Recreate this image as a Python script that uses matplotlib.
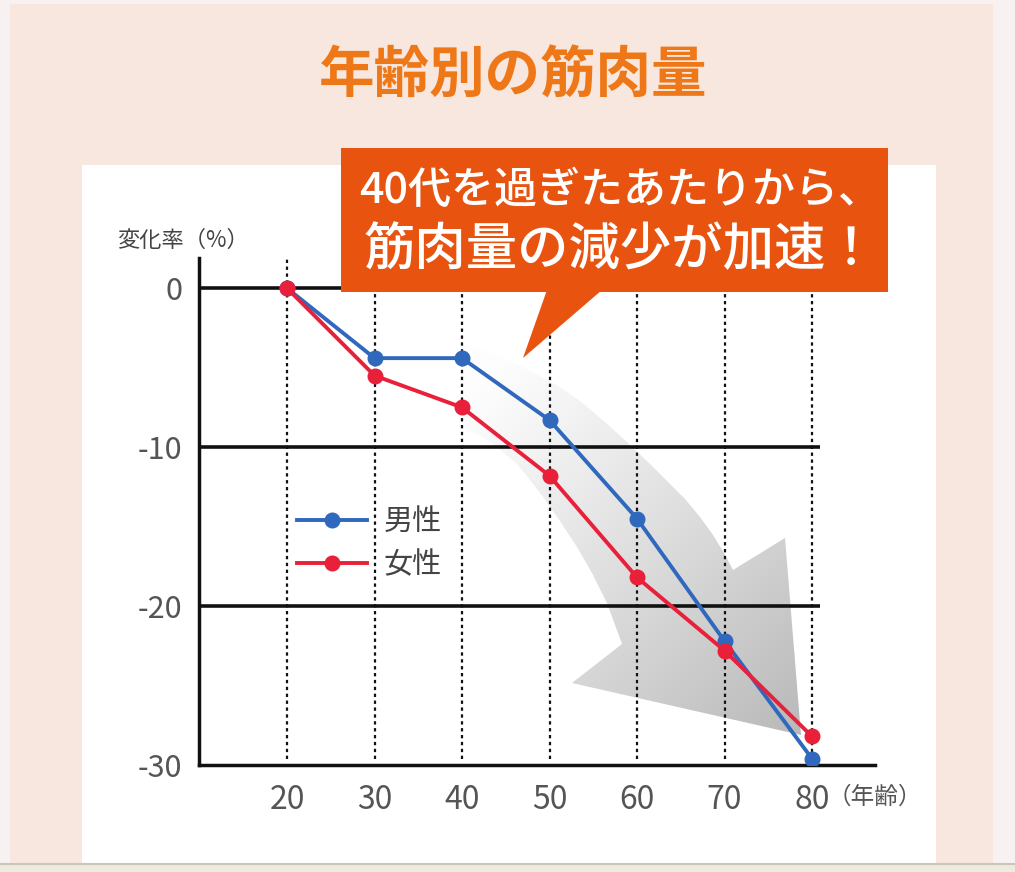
import numpy as np
import matplotlib
matplotlib.use('Agg')
import matplotlib.pyplot as plt
from matplotlib.patches import Rectangle, Polygon

plt.rcParams['font.family'] = ['Noto Sans CJK JP', 'DejaVu Sans']

# データ
ages = [20, 30, 40, 50, 60, 70, 80]
male = [0, -4.4, -4.4, -8.3, -14.5, -22.2, -29.6]
female = [0, -5.5, -7.5, -11.8, -18.2, -22.8, -28.2]
y_ticks = [0, -10, -20, -30]
series_names = ['男性', '女性']

title = '年齢別の筋肉量'
callout_1 = '40代を過ぎたあたりから、'
callout_2 = '筋肉量の減少が加速！'

W, H = 1015, 872
fig = plt.figure(figsize=(W / 100, H / 100), dpi=100)
fig.patch.set_facecolor('#f8f1f1')

# 背景（ピクセル座標）
bg = fig.add_axes([0, 0, 1, 1], zorder=0)
bg.set_xlim(0, W)
bg.set_ylim(H, 0)
bg.axis('off')
bg.add_patch(Rectangle((10, 4), 983, 859, color='#f8e7de', lw=0))
bg.add_patch(Rectangle((82, 165), 854, 698, color='white', lw=0))
bg.add_patch(Rectangle((0, 863), W, 9, color='#eeebdc', lw=0))
bg.plot([0, W], [863.5, 863.5], color='#c9c6c0', lw=1.5)

# グレーの矢印（グラデーション）
arrow_pts = [(463, 345), (500, 356), (530, 371), (558, 386), (580, 401),
             (605, 422), (630, 445), (650, 464), (668, 482), (685, 499),
             (700, 517), (713, 535), (724, 553), (733, 570), (785, 538),
             (801, 735), (572, 683), (622, 644), (607, 603), (592, 573),
             (577, 547), (560, 521), (543, 497), (530, 480), (517, 464),
             (497, 447), (478, 434), (463, 428)]
arrow = Polygon(arrow_pts, closed=True, facecolor='none', edgecolor='none')
bg.add_patch(arrow)
gx, gy = np.meshgrid(np.linspace(440, 820, 240), np.linspace(330, 750, 240))
t = ((gx - 465) * 0.697 + (gy - 390) * 0.717) / 481
t = np.clip(t, 0, 1)
g = 0.995 - 0.27 * t ** 1.1
img = np.dstack([g, g, g, np.ones_like(g)])
im = bg.imshow(img, extent=(440, 820, 750, 330), origin='upper',
               interpolation='bilinear', aspect='auto', zorder=3)
im.set_clip_path(arrow)
bg.set_xlim(0, W)
bg.set_ylim(H, 0)

# タイトル
bg.text(513, 77, title, color='#ee7818', fontsize=40, fontweight='bold',
        ha='center', va='center')
bg.text(117, 240, '変化率（%）', color='#444444', fontsize=16,
        ha='left', va='center')

# メインのグラフ
xmin, xmax = 9.94, 87.2
ymin, ymax = -30, 1.9
ax = fig.add_axes([199 / W, (H - 765) / H, 676 / W, 507 / H], zorder=1)
ax.patch.set_alpha(0)
ax.set_xlim(xmin, xmax)
ax.set_ylim(ymin, ymax)

for s in ['top', 'right']:
    ax.spines[s].set_visible(False)
for s in ['left', 'bottom']:
    ax.spines[s].set_linewidth(2.5)
    ax.spines[s].set_color('#111111')

ax.hlines(y_ticks[:-1], xmin, 80.9, color='#111111', lw=2.6, zorder=2)
ax.vlines(ages, ymin + 0.4, ymax, color='#111111', lw=1.6,
          linestyles=(0, (1.5, 1.6)), zorder=2)

ax.plot(ages, male, color='#2f68bd', lw=2.8, marker='o', ms=10.5,
        label=series_names[0], zorder=4)
ax.plot(ages, female, color='#e8203a', lw=2.8, marker='o', ms=10.5,
        label=series_names[1], zorder=5)

ax.set_xticks(ages)
ax.set_xticklabels([str(a) for a in ages])
ax.set_yticks(y_ticks)
ax.set_yticklabels([str(v) for v in y_ticks])
ax.tick_params(length=0, colors='#555555')
ax.tick_params(axis='y', labelsize=22, pad=12)
ax.tick_params(axis='x', labelsize=23, pad=14)
ax.annotate('（年齢）', xy=(80, ymin), xytext=(11, -23),
            textcoords='offset points', ha='left', va='center',
            fontsize=17, color='#555555')

ax.legend(loc='upper left', bbox_to_anchor=(0.124, 0.538), frameon=False,
          fontsize=21, handlelength=2.4, handletextpad=0.55,
          labelspacing=0.45, borderpad=0, numpoints=1, labelcolor='#444444')

# 吹き出し
ov = fig.add_axes([0, 0, 1, 1], zorder=2)
ov.set_xlim(0, W)
ov.set_ylim(H, 0)
ov.axis('off')
orange = '#e8530f'
ov.add_patch(Rectangle((341, 148), 547, 144, color=orange, lw=0))
ov.add_patch(Polygon([(547, 290), (602, 290), (523, 358)], closed=True,
                     color=orange, lw=0))
ov.text(620, 190, callout_1, color='white', fontsize=31, fontweight='medium',
        ha='center', va='center')
ov.text(620, 250, callout_2, color='white', fontsize=37, fontweight='medium',
        ha='center', va='center')

fig.savefig('out.png', dpi=100)
